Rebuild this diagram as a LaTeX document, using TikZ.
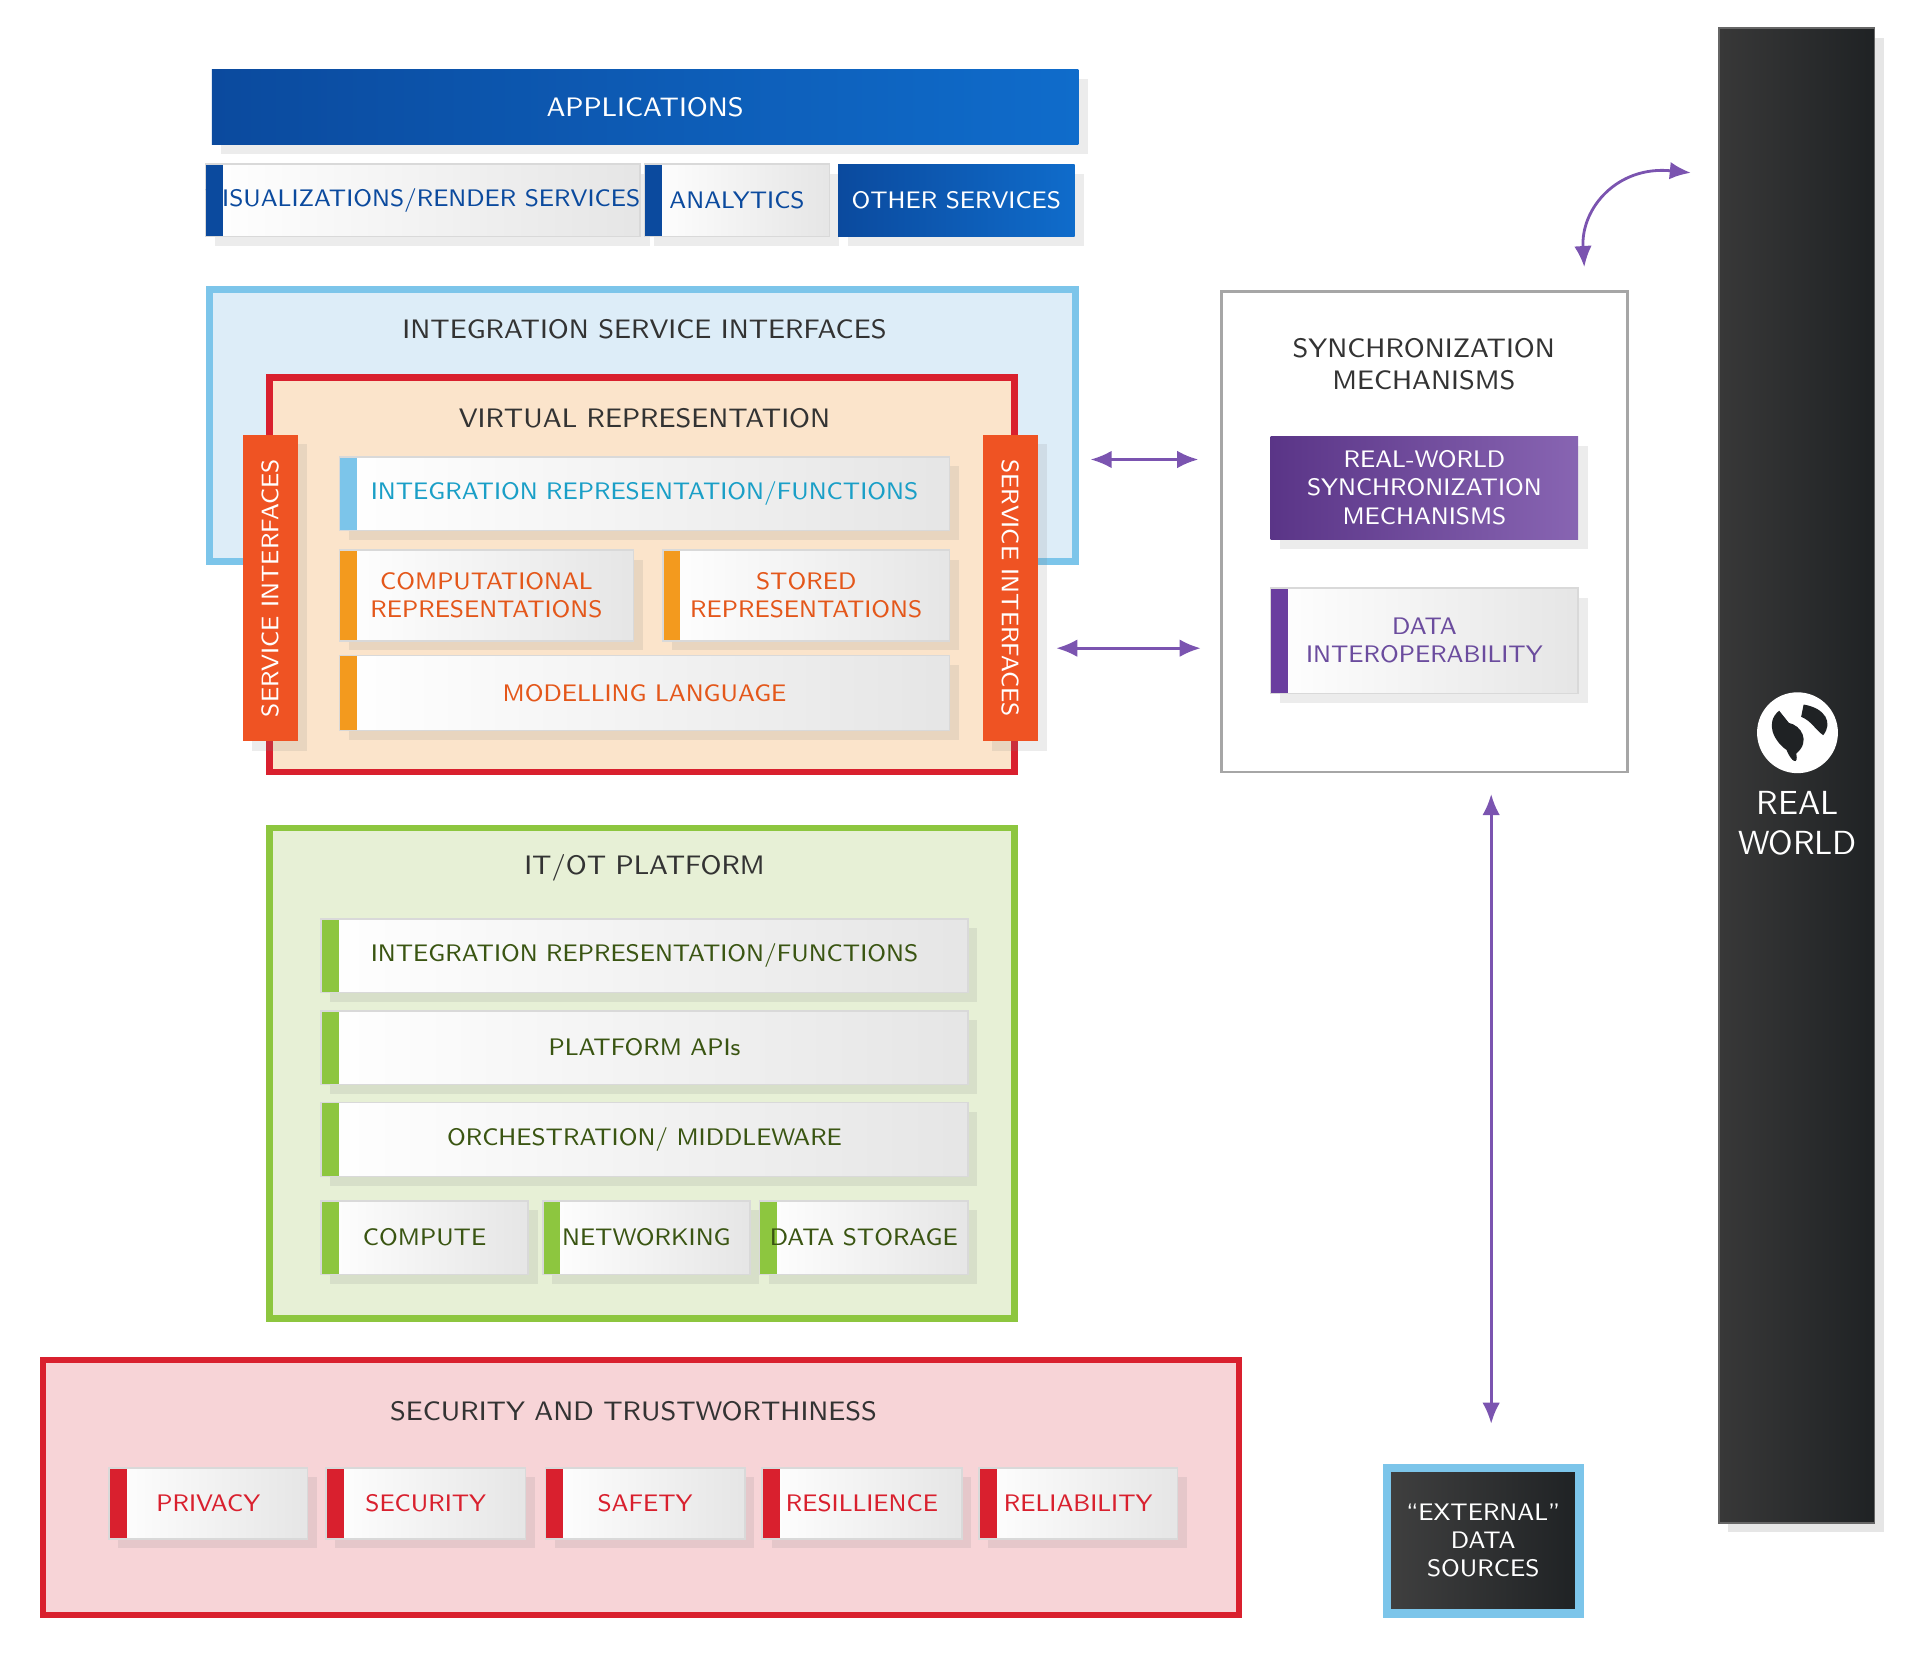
\documentclass[tikz,border=0pt]{standalone}
\usepackage{fontspec}
\setmainfont{Open Sans}
\usetikzlibrary{shadows,arrows.meta}
\definecolor{appblue}{HTML}{0B4A9E}
\definecolor{appblue2}{HTML}{0F6CCB}
\definecolor{intblue}{HTML}{DDEDF8}
\definecolor{intline}{HTML}{7CC5EA}
\definecolor{cyantext}{HTML}{1A9FC7}
\definecolor{vrfill}{HTML}{FBE4CB}
\definecolor{redline}{HTML}{D9202E}
\definecolor{orangebar}{HTML}{EF5323}
\definecolor{orangetext}{HTML}{E4571A}
\definecolor{orangeedge}{HTML}{F39A1E}
\definecolor{itfill}{HTML}{E7F0D6}
\definecolor{itline}{HTML}{8DC63F}
\definecolor{ittext}{HTML}{3A5512}
\definecolor{secfill}{HTML}{F7D4D7}
\definecolor{purplebox}{HTML}{6A3E9F}
\definecolor{purpletext}{HTML}{6B4C9E}
\definecolor{arrowpurple}{HTML}{7B54B0}
\definecolor{darkbar}{HTML}{1F2224}
\def\dpx{0.012255cm}
\tikzset{
  every node/.style={font=\sffamily\fontsize{6.8}{8}\selectfont, align=center, inner sep=0pt},
  title/.style={font=\sffamily\fontsize{7.6}{9}\selectfont, text=black!80},
  card/.style={left color=white, right color=black!10, draw=black!15, drop shadow={opacity=0.15},
    path picture={\fill[#1] (path picture bounding box.north west) rectangle ([xshift=5pt]path picture bounding box.south west);}},
  link/.style={arrowpurple, thick, {Latex[length=6pt,width=5pt]}-{Latex[length=6pt,width=5pt]}}
}
% name, x1, y1, x2, y2, style, text
\newcommand{\card}[7]{
  \node[#6, minimum width={(#4-#2)*\dpx}, minimum height={(#5-#3)*\dpx}] (#1) at ({(#2+#4)/2},{(#3+#5)/2}) {#7};
}
\begin{document}
\begin{tikzpicture}[x=\dpx, y=-\dpx]
  \useasboundingbox (0,0) rectangle (1567,1357);

  % applications
  \card{apps}{173}{57}{880}{118}{left color=appblue, right color=appblue2, text=white, font=\sffamily\fontsize{7.6}{9}\selectfont, drop shadow={opacity=0.15}}{APPLICATIONS}
  \card{vis}{173}{134}{517}{193}{card=appblue, text=appblue}{VISUALIZATIONS/RENDER SERVICES}
  \card{ana}{526}{134}{677}{193}{card=appblue, text=appblue}{ANALYTICS}
  \card{oth}{684}{134}{877}{193}{left color=appblue, right color=appblue2, text=white, drop shadow={opacity=0.15}}{OTHER SERVICES}

  % integration service interfaces / virtual representation
  \card{isi}{171}{236}{878}{458}{fill=intblue, draw=intline, line width=2pt}{}
  \node[title] at (526,269) {INTEGRATION SERVICE INTERFACES};
  \card{vr}{220}{308}{828}{630}{fill=vrfill, draw=redline, line width=1.8pt}{}
  \node[title] at (526,341) {VIRTUAL REPRESENTATION};
  \card{sil}{198}{355}{243}{605}{fill=orangebar, drop shadow={opacity=0.15}}{}
  \node[rotate=90, text=white] at (sil) {SERVICE INTERFACES};
  \card{sir}{802}{355}{847}{605}{fill=orangebar, drop shadow={opacity=0.15}}{}
  \node[rotate=-90, text=white] at (sir) {SERVICE INTERFACES};
  \card{irf}{277}{373}{775}{433}{card=intline, text=cyantext}{INTEGRATION REPRESENTATION/FUNCTIONS}
  \card{comp}{277}{449}{517}{523}{card=orangeedge, text=orangetext}{COMPUTATIONAL\\REPRESENTATIONS}
  \card{stor}{541}{449}{775}{523}{card=orangeedge, text=orangetext}{STORED\\REPRESENTATIONS}
  \card{mod}{277}{535}{775}{596}{card=orangeedge, text=orangetext}{MODELLING LANGUAGE}

  % synchronization
  \card{sync}{997}{238}{1328}{630}{fill=white, draw=black!35, line width=0.8pt}{}
  \node[title] at (1162,297) {SYNCHRONIZATION\\MECHANISMS};
  \card{rws}{1037}{356}{1288}{440}{left color=purplebox!85!black, right color=purplebox!80, text=white, drop shadow={opacity=0.15}}{REAL-WORLD\\SYNCHRONIZATION\\MECHANISMS}
  \card{dint}{1037}{480}{1288}{566}{card=purplebox, text=purpletext}{DATA\\INTEROPERABILITY}

  % real world
  \card{rw}{1403}{23}{1530}{1243}{left color=black!78, right color=darkbar, draw=black!60, drop shadow={opacity=0.2}}{}
  \node[circle, fill=white, minimum size={66*\dpx}] (globe) at (1467,598) {};
  \fill[darkbar] (1452,580) .. controls (1440,590) and (1448,605) .. (1458,612) .. controls (1462,622) and (1468,625) .. (1466,615) .. controls (1478,605) and (1470,592) .. (1460,590) -- cycle;
  \fill[darkbar] (1472,575) .. controls (1490,578) and (1496,590) .. (1488,600) .. controls (1482,596) and (1478,588) .. (1470,585) -- cycle;
  \node[text=white, font=\sffamily\fontsize{9.5}{11.5}\selectfont] (rwt) at (1467,672) {REAL\\WORLD};

  % it/ot platform
  \card{itot}{220}{676}{828}{1076}{fill=itfill, draw=itline, line width=1.8pt}{}
  \node[title] at (526,708) {IT/OT PLATFORM};
  \card{irf2}{262}{750}{790}{810}{card=itline, text=ittext}{INTEGRATION REPRESENTATION/FUNCTIONS}
  \card{api}{262}{825}{790}{885}{card=itline, text=ittext}{PLATFORM APIs}
  \card{orch}{262}{900}{790}{960}{card=itline, text=ittext}{ORCHESTRATION/ MIDDLEWARE}
  \card{cpu}{262}{980}{431}{1040}{card=itline, text=ittext}{COMPUTE}
  \card{net}{443}{980}{612}{1040}{card=itline, text=ittext}{NETWORKING}
  \card{dsto}{620}{980}{790}{1040}{card=itline, text=ittext}{DATA STORAGE}

  % security
  \card{sec}{35}{1110}{1011}{1318}{fill=secfill, draw=redline, line width=1.8pt}{}
  \node[title] at (517,1152) {SECURITY AND TRUSTWORTHINESS};
  \card{priv}{89}{1198}{251}{1256}{card=redline, text=redline}{PRIVACY}
  \card{secu}{266}{1198}{429}{1256}{card=redline, text=redline}{SECURITY}
  \card{safe}{445}{1198}{608}{1256}{card=redline, text=redline}{SAFETY}
  \card{resi}{622}{1198}{785}{1256}{card=redline, text=redline}{RESILLIENCE}
  \card{reli}{799}{1198}{961}{1256}{card=redline, text=redline}{RELIABILITY}

  % external data sources
  \card{ext}{1132}{1198}{1289}{1317}{left color=black!75, right color=darkbar, draw=intline, line width=2.5pt, text=white}{“EXTERNAL”\\DATA\\SOURCES}

  % connectors
  \coordinate (a1) at (890,375);
  \coordinate (a2) at (978,375);
  \coordinate (b1) at (862,529);
  \coordinate (b2) at (980,529);
  \coordinate (c1) at (1217,648);
  \coordinate (c2) at (1217,1162);
  \coordinate (d1) at (1293,218);
  \coordinate (d2) at (1380,141);
  \draw[link] (a1) -- (a2);
  \draw[link] (b1) -- (b2);
  \draw[link] (c1) -- (c2);
  \draw[link] (d1) .. controls (1290,170) and (1320,135) .. (d2);
\end{tikzpicture}
\end{document}
